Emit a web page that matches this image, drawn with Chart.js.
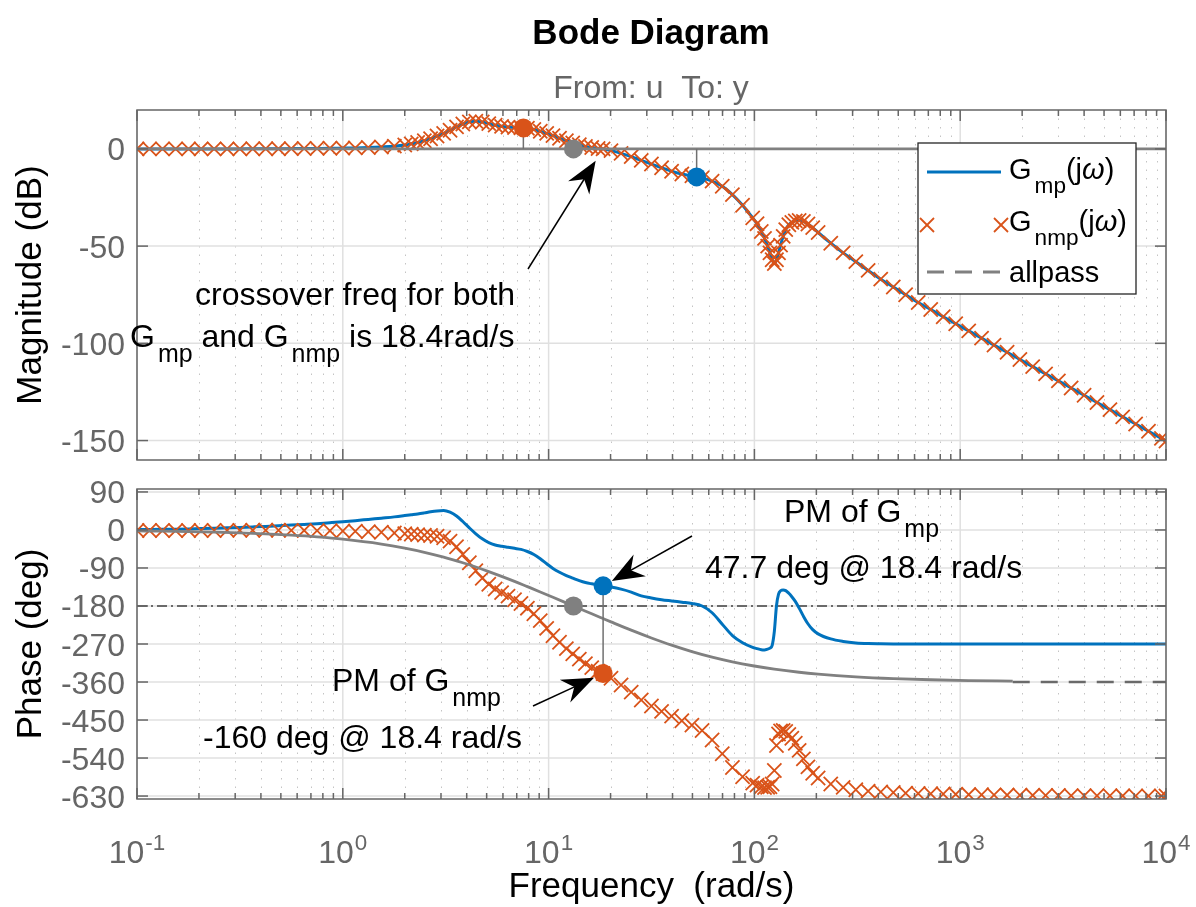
<!DOCTYPE html>
<html>
<head>
<meta charset="utf-8">
<title>Bode Diagram</title>
<script src="https://cdn.jsdelivr.net/npm/chart.js@4.4.1/dist/chart.umd.min.js"></script>
<style>
  body { margin: 0; background: #fff; }
  #wrap { position: relative; width: 1196px; height: 907px; }
  canvas { position: absolute; left: 0; }
</style>
</head>
<body>
<div id="wrap">
  <canvas id="magChart" width="1196" height="475" style="top:0"></canvas>
  <canvas id="phaseChart" width="1196" height="432" style="top:475px"></canvas>
</div>
<script>
// frequency grid (rad/s) shared by the G_mp / G_nmp responses
const freq = [
  0.1, 0.115, 0.133, 0.154, 0.178, 0.205, 0.237, 0.274, 0.316, 0.365, 0.422, 0.487, 0.562, 0.649, 0.75, 0.866,
  1, 1.15, 1.33, 1.54, 1.78,
  2, 2.15, 2.31, 2.49, 2.67, 2.87, 3.09, 3.32, 3.57, 3.83, 4.12, 4.43, 4.76, 5.12, 5.5, 5.91, 6.35, 6.83, 7.34, 7.89,
  8.48, 9.11, 9.79, 10.5, 11.3, 12.2, 13.1, 14.1, 15.1, 16.2, 17.4, 18.4,
  20.1, 22.5, 25.2, 28.2, 31.6, 35.4, 39.6, 44.4, 49.7, 55.7, 62.3, 69.8, 78.2, 87.6, 98.1,
  103, 108, 112, 116, 119, 122, 125, 128, 131, 134, 138, 142, 147, 152, 158, 165, 173, 182, 192, 204,
  235, 270, 311, 357, 411, 473, 543, 625, 719, 827, 951,
  1100, 1270, 1460, 1690, 1950, 2250, 2600, 3000, 3460, 4000, 4620, 5340, 6160, 7120, 8220, 9500, 10000
];

// |G_mp| in dB
const magMp = [
  0, 0, 0, 0, 0, 0, 0, 0, 0, 0.05, 0.1, 0.1, 0.15, 0.2, 0.25, 0.3,
  0.4, 0.5, 0.7, 1.0, 1.4,
  2.0, 2.6, 3.3, 4.2, 5.2, 6.6, 8.0, 9.6, 11.3, 12.8, 13.9, 14.2, 13.8, 13.0, 12.2, 11.6, 11.2, 11.0, 10.9, 10.6,
  10.0, 9.1, 8.0, 6.8, 5.5, 4.2, 3.1, 2.1, 1.3, 0.7, 0.2, 0,
  -0.9, -2.3, -4.0, -5.9, -7.8, -9.7, -11.5, -12.9, -13.9, -15.0, -16.6, -19.2, -23.5, -29, -35.5,
  -38.5, -42.5, -46, -50, -53.5, -57, -59, -57, -53.5, -49.5, -45, -41.5, -39, -37.8, -37, -36.8, -37.3, -38.6, -40.5, -43,
  -48.5, -53.5, -58, -62.5, -67, -71, -75, -79, -82.6, -86.3, -89.9,
  -93.6, -97.3, -100.9, -104.6, -108.3, -112, -115.7, -119.3, -123, -126.7, -130.4, -134.1, -137.8, -141.5, -145.2, -148.9, -150.2
];

// the allpass factor has unit gain, so G_nmp has the same magnitude
const magNmp = magMp;

// phase of G_mp (deg)
const phaseMp = [
  1, 1.2, 1.5, 1.9, 2.5, 3.2, 4, 5, 6, 7.2, 8.5, 10, 11.5, 13.2, 15, 17.2,
  19.5, 22, 25, 28, 31,
  34, 36, 38, 40.5, 43, 45, 46, 42, 33, 20, 5, -9, -21, -30, -35.5, -38.5, -41, -43.5, -46, -51,
  -58, -68, -80, -91, -100, -108, -114, -120, -124.5, -127.5, -130, -132.3,
  -135, -140, -147, -156, -161, -165, -168, -171, -174, -180, -196, -223, -250, -267, -278,
  -281, -283.5, -284, -282, -280, -273, -240, -180, -152, -144, -142, -143.5, -150, -158, -169, -185, -204, -222, -236, -246,
  -258, -264, -267.5, -269, -269.5, -269.8, -270, -270, -270, -270, -270,
  -270, -270, -270, -270, -270, -270, -270, -270, -270, -270, -270, -270, -270, -270, -270, -270, -270
];

// phase of G_nmp (deg)
const phaseNmp = [
  -1.2, -1.3, -1.4, -1.5, -1.4, -1.3, -1.2, -1.0, -0.9, -0.8, -0.8, -0.7, -0.9, -1.1, -1.5, -1.9,
  -2.4, -3.1, -4.1, -5.4, -7.2,
  -9, -9.9, -11, -12.3, -13.2, -15, -18.3, -26.4, -39.6, -57.7, -77.6, -96.7, -114.2, -128.5, -139.7, -148.3, -156.6, -165.2, -174, -185.2,
  -198.5, -214.7, -233, -250.4, -265.8, -280.9, -293.4, -305.9, -316.5, -326, -334.7, -340,
  -351, -367, -384, -402.5, -416.7, -429.5, -440.8, -451.6, -462, -474.8, -497.2, -530, -562.3, -584.2, -599.5,
  -604.2, -608.3, -610, -609.1, -607.9, -601.6, -569.6, -510.3, -483, -475.7, -474.5, -476.8, -484.3, -493.2, -505.1, -521.9, -541.9, -560.9, -576, -587.2,
  -601.5, -609.5, -615.1, -618.3, -620.3, -621.7, -623, -624, -624.7, -625.3, -625.9,
  -626.5, -627, -627.4, -627.7, -628, -628.3, -628.6, -628.8, -629, -629.2, -629.3, -629.4, -629.5, -629.6, -629.7, -629.7, -629.8
];

// allpass phase (deg), drawn as a plain line up to ~1.8e3 rad/s
const apFreq = [
  0.1, 0.133, 0.178, 0.237, 0.316, 0.422, 0.562, 0.75, 1, 1.54, 2, 2.49, 3.09, 3.83, 4.43, 5.12, 5.91, 6.83, 7.89,
  9.11, 10.5, 12.2, 13.2, 14.1, 16.2, 18.4, 20.1, 25.2, 31.6, 39.6, 49.7, 62.3, 78.2, 98.1, 125, 165, 204, 311, 473,
  719, 1100, 1800
];
const apPhase = [
  -2.2, -2.9, -3.9, -5.2, -6.9, -9.3, -12.4, -16.5, -21.9, -33.4, -43, -52.8, -64.3, -77.7, -87.7, -98.5, -109.8, -121.7, -134.2,
  -146.7, -159.4, -172.9, -180, -185.9, -198.5, -209.8, -217.6, -237.2, -255.7, -272.8, -288, -301.2, -312.3, -321.5, -329.6, -336.9, -341.2, -347.6, -351.9,
  -354.7, -356.5, -357.8
];
const apTail = [1800, 10000];     // dashed -360 asymptote

// marked points
const wCross = 18.4;              // common gain crossover
const wAllpass = 13.2;            // allpass -180 crossing
const pmMp = 47.7;
const pmNmp = -160;
const peakNmp = [7.54, 10.8];     // [w, dB]
const markMp = [52.4, -14.4];     // [w, dB]

const magTicks = [0, -50, -100, -150];
const phaseTicks = [90, 0, -90, -180, -270, -360, -450, -540, -630];
const decades = [-1, 0, 1, 2, 3, 4];

const BLUE = '#0072BD';
const ORANGE = '#D95319';
const GRAY = '#808080';
const REF_GRAY = '#6a6a6a';
const AXIS_GRAY = '#666666';
const FONT = '"Liberation Sans", Arial, Helvetica, sans-serif';

const pts = (xs, ys) => xs.map((x, i) => ({ x: x, y: ys[i] }));

function seg(ctx, x1, y1, x2, y2) {
  ctx.beginPath();
  ctx.moveTo(x1, y1);
  ctx.lineTo(x2, y2);
  ctx.stroke();
}

// text with tex style sub/superscripts: parts = [[text, '_' | '^' | 'i' | undefined], ...]
function texLayout(ctx, parts, size) {
  let w = 0;
  const out = parts.map(([t, mode]) => {
    const fs = mode === '_' ? size * 0.78 : mode === '^' ? size * 0.7 : size;
    const dy = mode === '_' ? size * 0.47 : mode === '^' ? -size * 0.42 : 0;
    const pad = mode === '_' ? 3 : mode === '^' ? 1 : 0;
    const font = `${mode === 'i' ? 'italic ' : ''}${fs}px ${FONT}`;
    ctx.font = font;
    const item = { t, font, dy, x: w + pad };
    w += ctx.measureText(t).width + pad;
    return item;
  });
  return { items: out, width: w };
}

function drawTex(ctx, parts, x, y, size, color, align) {
  const lay = texLayout(ctx, parts, size);
  const x0 = align === 'center' ? x - lay.width / 2 : x;
  ctx.fillStyle = color;
  ctx.textAlign = 'left';
  ctx.textBaseline = 'alphabetic';
  lay.items.forEach(it => {
    ctx.font = it.font;
    ctx.fillText(it.t, x0 + it.x, y + it.dy);
  });
}

function drawArrow(ctx, tail, tip) {
  const dx = tip[0] - tail[0], dy = tip[1] - tail[1];
  const len = Math.hypot(dx, dy);
  const ux = dx / len, uy = dy / len;
  const nx = -uy, ny = ux;
  const hl = 32, hw = 12.5;
  const bx = tip[0] - ux * hl, by = tip[1] - uy * hl;
  ctx.save();
  ctx.strokeStyle = '#000';
  ctx.fillStyle = '#000';
  ctx.lineWidth = 1.5;
  seg(ctx, tail[0], tail[1], tip[0] - ux * 18, tip[1] - uy * 18);
  ctx.beginPath();
  ctx.moveTo(tip[0], tip[1]);
  ctx.lineTo(bx + nx * hw, by + ny * hw);
  ctx.lineTo(tip[0] - ux * hl * 0.68, tip[1] - uy * hl * 0.68);
  ctx.lineTo(bx - nx * hw, by - ny * hw);
  ctx.closePath();
  ctx.fill();
  ctx.restore();
}

// arrow that stops a little short of a data point
function arrowTo(chart, tail, w, v, gap) {
  const px = chart.scales.x.getPixelForValue(w);
  const py = chart.scales.y.getPixelForValue(v);
  const dx = tail[0] - px, dy = tail[1] - py;
  const d = Math.hypot(dx, dy);
  drawArrow(chart.ctx, tail, [px + dx / d * gap, py + dy / d * gap]);
}

function drawX(ctx, cx, cy, h) {
  seg(ctx, cx - h, cy - h, cx + h, cy + h);
  seg(ctx, cx - h, cy + h, cx + h, cy - h);
}

// MATLAB style axes: grid behind the data, box with inward ticks on top
const bodeAxes = {
  id: 'bodeAxes',
  beforeDatasetsDraw(chart, args, opts) {
    const { ctx, chartArea: a } = chart;
    const xs = chart.scales.x, ys = chart.scales.y;
    ctx.save();
    ctx.lineWidth = 1;
    ctx.strokeStyle = '#c4c4c4';
    ctx.setLineDash([1.5, 7]);
    decades.slice(0, -1).forEach(d => {
      for (let m = 2; m < 10; m++) {
        const px = Math.round(xs.getPixelForValue(m * Math.pow(10, d))) + 0.5;
        seg(ctx, px, a.top, px, a.bottom);
      }
    });
    ctx.setLineDash([]);
    ctx.strokeStyle = '#e0e0e0';
    ctx.lineWidth = 1.5;
    decades.forEach(d => {
      const px = xs.getPixelForValue(Math.pow(10, d));
      seg(ctx, px, a.top, px, a.bottom);
    });
    opts.yTicks.forEach(v => {
      const py = ys.getPixelForValue(v);
      seg(ctx, a.left, py, a.right, py);
    });
    ctx.restore();
  },
  afterDatasetsDraw(chart, args, opts) {
    const { ctx, chartArea: a } = chart;
    const xs = chart.scales.x, ys = chart.scales.y;
    ctx.save();
    ctx.strokeStyle = AXIS_GRAY;
    ctx.lineWidth = 1.5;
    ctx.strokeRect(a.left, a.top, a.right - a.left, a.bottom - a.top);
    decades.forEach((d, i) => {
      const px = xs.getPixelForValue(Math.pow(10, d));
      seg(ctx, px, a.bottom, px, a.bottom - 11);
      seg(ctx, px, a.top, px, a.top + 11);
      if (i === decades.length - 1) return;
      for (let m = 2; m < 10; m++) {
        const q = xs.getPixelForValue(m * Math.pow(10, d));
        seg(ctx, q, a.bottom, q, a.bottom - 6);
        seg(ctx, q, a.top, q, a.top + 6);
      }
    });
    ctx.fillStyle = AXIS_GRAY;
    ctx.font = `32px ${FONT}`;
    ctx.textAlign = 'right';
    ctx.textBaseline = 'alphabetic';
    opts.yTicks.forEach(v => {
      const py = ys.getPixelForValue(v);
      seg(ctx, a.left, py, a.left + 11, py);
      seg(ctx, a.right, py, a.right - 11, py);
      ctx.fillText(String(v), a.left - 12, py + 11.5);
    });
    if (opts.xLabels) {
      decades.forEach(d => {
        drawTex(ctx, [['10'], [String(d), '^']], xs.getPixelForValue(Math.pow(10, d)), a.bottom + 64, 32, AXIS_GRAY, 'center');
      });
      ctx.fillStyle = '#000';
      ctx.textAlign = 'center';
      ctx.font = `35px ${FONT}`;
      ctx.fillText('Frequency  (rad/s)', (a.left + a.right) / 2, a.bottom + 98);
    }
    // rotated y label
    ctx.save();
    ctx.translate(41, (a.top + a.bottom) / 2);
    ctx.rotate(-Math.PI / 2);
    ctx.fillStyle = '#000';
    ctx.textAlign = 'center';
    ctx.font = `35px ${FONT}`;
    ctx.fillText(opts.yTitle, 0, 0);
    ctx.restore();
    ctx.restore();
  }
};

function baseOptions(yMin, yMax, pad, axesOpts) {
  return {
    responsive: false,
    devicePixelRatio: 1,
    animation: false,
    layout: { padding: pad },
    scales: {
      x: { type: 'logarithmic', min: 0.1, max: 10000, display: false },
      y: { type: 'linear', min: yMin, max: yMax, display: false }
    },
    plugins: {
      legend: { display: false },
      tooltip: { enabled: false },
      bodeAxes: axesOpts
    }
  };
}

function lineDs(data, color, width, order, dash) {
  return {
    data: data, borderColor: color, borderWidth: width, borderDash: dash || [],
    pointRadius: 0, fill: false, tension: 0, order: order,
    cubicInterpolationMode: 'monotone'
  };
}

function dotDs(data, colors) {
  return {
    data: data, showLine: false, order: 0,
    pointStyle: 'circle', pointRadius: 9.5, pointBorderWidth: 0,
    pointBackgroundColor: colors, pointBorderColor: colors
  };
}

function crossDs(data) {
  return {
    data: data, showLine: false, order: 3,
    pointStyle: 'crossRot', pointRadius: 10, pointBorderWidth: 1.8,
    pointBorderColor: ORANGE, pointBackgroundColor: ORANGE
  };
}

// ---- magnitude ----
const magExtras = {
  id: 'magExtras',
  afterDraw(chart) {
    const ctx = chart.ctx;
    ctx.save();
    ctx.textAlign = 'center';
    ctx.textBaseline = 'alphabetic';
    ctx.fillStyle = '#000';
    ctx.font = `bold 35px ${FONT}`;
    ctx.fillText('Bode Diagram', 651, 44);
    ctx.fillStyle = AXIS_GRAY;
    ctx.font = `32px ${FONT}`;
    ctx.fillText('From: u  To: y', 651, 98);

    drawTex(ctx, [['crossover freq for both']], 195, 305, 32, '#000');
    drawTex(ctx, [['G'], ['mp', '_'], [' and G'], ['nmp', '_'], [' is 18.4rad/s']], 130, 347, 32, '#000');
    arrowTo(chart, [528, 269], wCross, 0, 14);

    // legend
    const L = 918, T = 143, R = 1136, B = 294;
    ctx.fillStyle = '#fff';
    ctx.fillRect(L, T, R - L, B - T);
    ctx.strokeStyle = '#262626';
    ctx.lineWidth = 1.3;
    ctx.strokeRect(L, T, R - L, B - T);
    ctx.strokeStyle = BLUE;
    ctx.lineWidth = 3;
    seg(ctx, 927, 172, 1001, 172);
    ctx.strokeStyle = ORANGE;
    ctx.lineWidth = 1.8;
    drawX(ctx, 927, 225, 7);
    drawX(ctx, 1001, 225, 7);
    ctx.strokeStyle = GRAY;
    ctx.lineWidth = 3;
    ctx.setLineDash([17, 11]);
    seg(ctx, 927, 272, 1001, 272);
    ctx.setLineDash([]);
    drawTex(ctx, [['G'], ['mp', '_'], ['(j'], ['\u03C9', 'i'], [')']], 1009, 179, 29, '#000');
    drawTex(ctx, [['G'], ['nmp', '_'], ['(j'], ['\u03C9', 'i'], [')']], 1009, 231, 29, '#000');
    drawTex(ctx, [['allpass']], 1009, 282, 29, '#000');
    ctx.restore();
  }
};

new Chart(document.getElementById('magChart'), {
  type: 'line',
  data: {
    datasets: [
      dotDs([{ x: peakNmp[0], y: peakNmp[1] }, { x: wAllpass, y: 0 }, { x: markMp[0], y: markMp[1] }], [ORANGE, GRAY, BLUE]),
      lineDs([{ x: peakNmp[0], y: peakNmp[1] }, { x: peakNmp[0], y: 0 }], '#707070', 1.5, 1),
      lineDs([{ x: markMp[0], y: markMp[1] }, { x: markMp[0], y: 0 }], '#707070', 1.5, 1),
      lineDs([{ x: 0.1, y: 0 }, { x: 10000, y: 0 }], GRAY, 2.8, 2),
      crossDs(pts(freq, magNmp)),
      lineDs(pts(freq, magMp), BLUE, 3, 4)
    ]
  },
  options: baseOptions(-160, 20, { left: 137, top: 110, right: 30, bottom: 15 },
    { yTicks: magTicks, xLabels: false, yTitle: 'Magnitude (dB)' }),
  plugins: [bodeAxes, magExtras]
});

// ---- phase ----
const phaseExtras = {
  id: 'phaseExtras',
  afterDraw(chart) {
    const ctx = chart.ctx;
    ctx.save();
    drawTex(ctx, [['PM of G'], ['mp', '_']], 784, 522 - 475, 32, '#000');
    drawTex(ctx, [['47.7 deg @ 18.4 rad/s']], 705, 578 - 475, 32, '#000');
    drawTex(ctx, [['PM of G'], ['nmp', '_']], 332, 691 - 475, 32, '#000');
    drawTex(ctx, [['-160 deg @ 18.4 rad/s']], 203, 748 - 475, 32, '#000');
    arrowTo(chart, [692, 536 - 475], wCross, -180 + pmMp, 10);
    arrowTo(chart, [533, 706 - 475], wCross, -180 + pmNmp, 10);
    ctx.restore();
  }
};

new Chart(document.getElementById('phaseChart'), {
  type: 'line',
  data: {
    datasets: [
      dotDs([{ x: wCross, y: -180 + pmMp }, { x: wCross, y: -180 + pmNmp }, { x: wAllpass, y: -180 }], [BLUE, ORANGE, GRAY]),
      lineDs([{ x: wCross, y: -180 + pmMp }, { x: wCross, y: -180 + pmNmp }], '#707070', 1.5, 1),
      lineDs(pts(apFreq, apPhase), GRAY, 2.8, 2),
      lineDs(apTail.map(w => ({ x: w, y: -360 })), REF_GRAY, 2.5, 2, [17, 11]),
      crossDs(pts(freq, phaseNmp)),
      lineDs(pts(freq, phaseMp), BLUE, 3, 4),
      lineDs([{ x: 0.1, y: -180 }, { x: 10000, y: -180 }], REF_GRAY, 2, 6, [10, 4, 2, 4])
    ]
  },
  options: baseOptions(-637, 97, { left: 137, top: 14, right: 30, bottom: 108 },
    { yTicks: phaseTicks, xLabels: true, yTitle: 'Phase (deg)' }),
  plugins: [bodeAxes, phaseExtras]
});
</script>
</body>
</html>
